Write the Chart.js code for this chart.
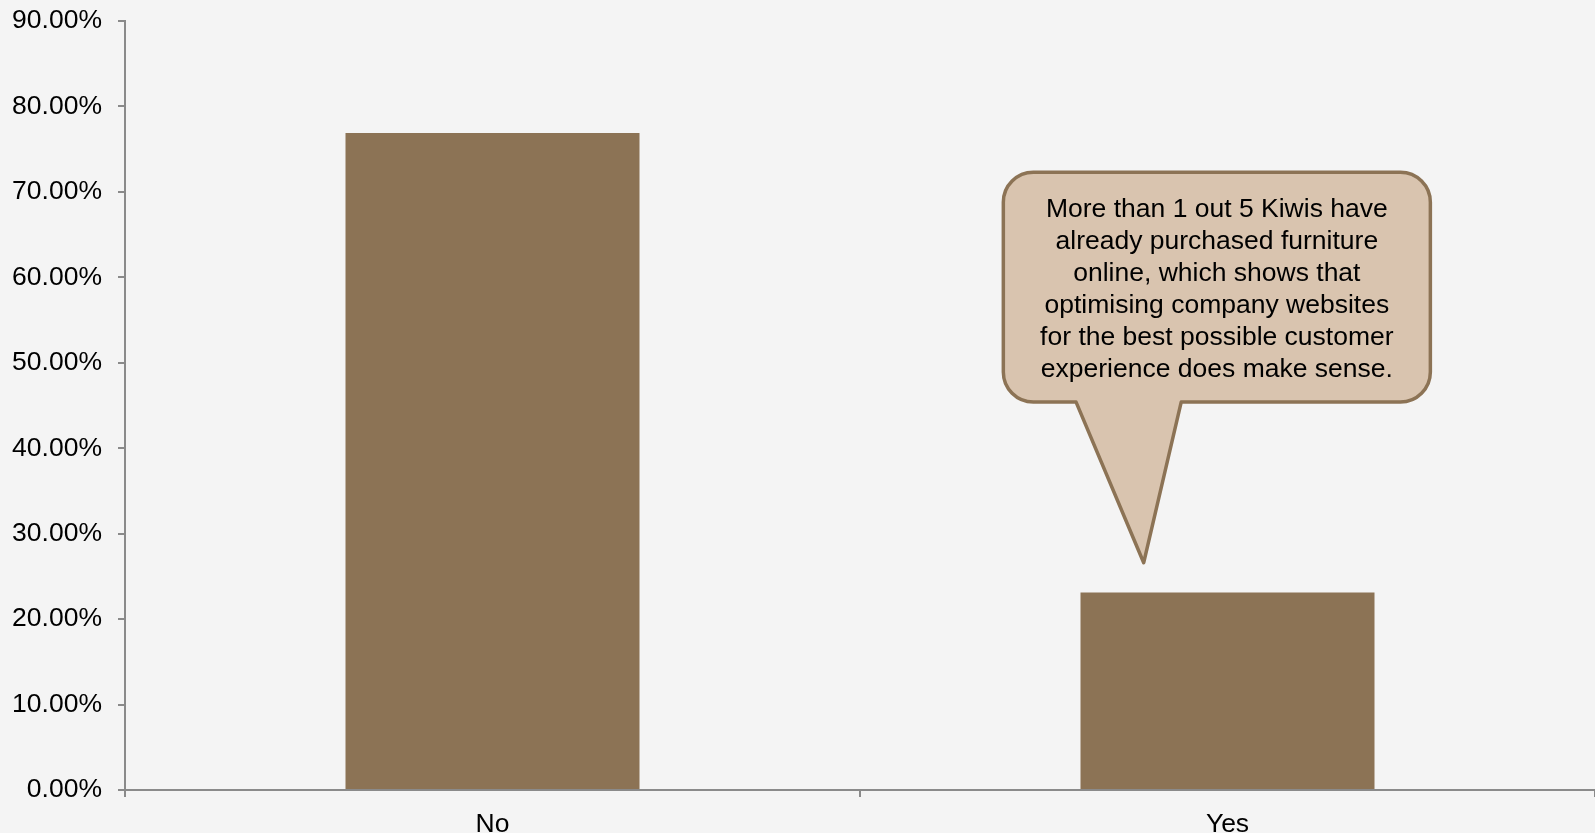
<!DOCTYPE html>
<html>
<head>
<meta charset="utf-8">
<script src="https://cdn.jsdelivr.net/npm/chart.js@4"></script>
<style>
  html, body { margin: 0; padding: 0; background: #f4f4f4; }
  #wrap { width: 1595px; height: 833px; position: relative; }
</style>
</head>
<body>
<div id="wrap"><canvas id="chart"></canvas></div>
<script>
// values
const categories = ['No', 'Yes']
const shares = [76.9, 23.1]
const yTicks = [0, 10, 20, 30, 40, 50, 60, 70, 80, 90]

const calloutLines = [
    'More than 1 out 5 Kiwis have',
    'already purchased furniture',
    'online, which shows that',
    'optimising company websites',
    'for the best possible customer',
    'experience does make sense.'
]

const barColor = '#8c7355'
const axisColor = '#8a8a8a'
const font = "'Liberation Sans', Arial, sans-serif"
const fontSize = 26.5

// speech bubble pointing at the "Yes" bar
const calloutPlugin = {
    id: 'callout',
    afterDatasetsDraw(chart) {
        const { ctx, scales } = chart
        const x = scales.x, y = scales.y
        const cx = x.getPixelForValue(1)
        const catW = x.getPixelForValue(1) - x.getPixelForValue(0)

        let left = cx - catW * 0.305
        let right = cx + catW * 0.276
        let top = y.getPixelForValue(72.3)
        let bottom = y.getPixelForValue(45.4)
        let r = 30
        let baseL = cx - catW * 0.206
        let baseR = cx - catW * 0.063
        let tipX = cx - catW * 0.114
        let tipY = y.getPixelForValue(26.6)

        ctx.save()
        ctx.beginPath()
        ctx.moveTo(left + r, top)
        ctx.lineTo(right - r, top)
        ctx.arcTo(right, top, right, top + r, r)
        ctx.lineTo(right, bottom - r)
        ctx.arcTo(right, bottom, right - r, bottom, r)
        ctx.lineTo(baseR, bottom)
        ctx.lineTo(tipX, tipY)
        ctx.lineTo(baseL, bottom)
        ctx.lineTo(left + r, bottom)
        ctx.arcTo(left, bottom, left, bottom - r, r)
        ctx.lineTo(left, top + r)
        ctx.arcTo(left, top, left + r, top, r)
        ctx.closePath()
        ctx.fillStyle = '#d9c4af'
        ctx.fill()
        ctx.lineWidth = 3.5
        ctx.lineJoin = 'round'
        ctx.strokeStyle = barColor
        ctx.stroke()

        ctx.fillStyle = '#000'
        ctx.font = fontSize + 'px ' + font
        ctx.textAlign = 'center'
        ctx.textBaseline = 'middle'
        let textX = (left + right) / 2
        calloutLines.forEach((line, i) => {
            ctx.fillText(line, textX, top + 37 + i * 32)
        })
        ctx.restore()
    }
}

const ctx = document.getElementById('chart').getContext('2d')

new Chart(ctx, {
    type: 'bar',
    data: {
        labels: categories,
        datasets: [{
            data: shares,
            backgroundColor: barColor,
            borderWidth: 0,
            categoryPercentage: 0.4,
            barPercentage: 1.0
        }]
    },
    options: {
        responsive: true,
        maintainAspectRatio: false,
        animation: false,
        layout: {
            padding: { left: 0, top: 21, right: 0, bottom: 0 }
        },
        scales: {
            y: {
                min: 0,
                max: 90,
                afterBuildTicks: (axis) => {
                    axis.ticks = yTicks.map(v => ({ value: v }))
                },
                afterFit: (axis) => {
                    axis.width = 125
                    axis.paddingTop = 0
                    axis.paddingBottom = 0
                },
                ticks: {
                    color: '#000',
                    padding: 16,
                    font: { family: font, size: fontSize },
                    callback: (v) => v.toFixed(2) + '%'
                },
                grid: {
                    drawOnChartArea: false,
                    drawTicks: true,
                    tickLength: 7,
                    color: axisColor,
                    lineWidth: 2
                },
                border: { display: true, color: axisColor, width: 2 }
            },
            x: {
                afterFit: (axis) => { axis.height = 43 },
                ticks: {
                    color: '#000',
                    padding: 12,
                    font: { family: font, size: fontSize }
                },
                grid: {
                    offset: true,
                    drawOnChartArea: false,
                    drawTicks: true,
                    tickLength: 7,
                    color: axisColor,
                    lineWidth: 2
                },
                border: { display: true, color: axisColor, width: 2 }
            }
        },
        plugins: {
            legend: { display: false },
            tooltip: { enabled: false }
        }
    },
    plugins: [calloutPlugin]
});
</script>
</body>
</html>
